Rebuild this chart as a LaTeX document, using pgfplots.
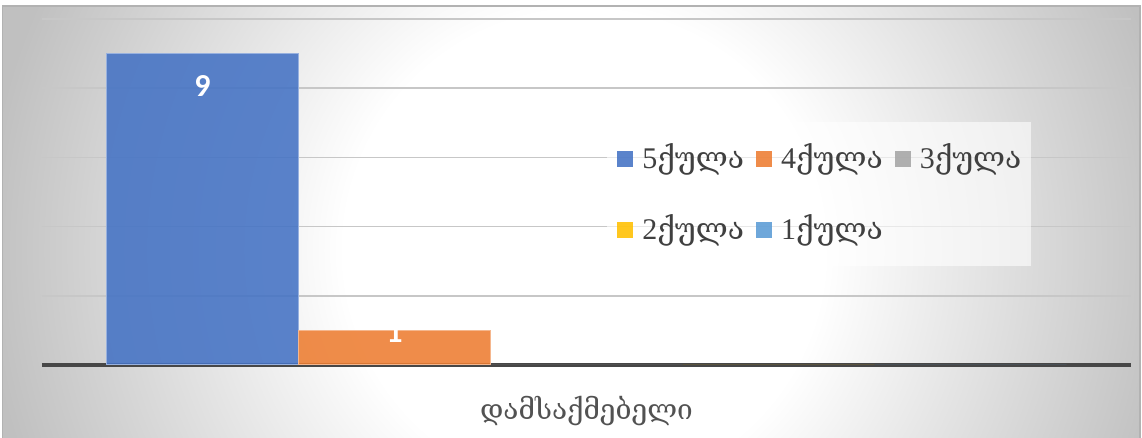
\documentclass[border=0pt]{standalone}
\usepackage{pgfplots}
\pgfplotsset{compat=1.18}
\usepackage{fontspec}
\setmainfont{Liberation Serif}
\newfontfamily\geo{DejaVu Serif}
\newfontfamily\lblfont{Carlito}
\definecolor{c5}{HTML}{4472C4}
\definecolor{c4}{HTML}{ED7D31}
\definecolor{c3}{HTML}{A5A5A5}
\definecolor{c2}{HTML}{FFC000}
\definecolor{c1}{HTML}{5B9BD5}
\definecolor{bggray}{HTML}{C0C0C0}
\pgfdeclareradialshading{bgsh}{\pgfpoint{0bp}{0bp}}{color(0bp)=(white); color(10bp)=(white); color(25bp)=(bggray); color(50bp)=(bggray)}
\begin{document}
\begin{tikzpicture}
\useasboundingbox (0,0) rectangle (571pt,219pt);
\fill[white] (0,0) rectangle (571pt,219pt);
\begin{scope}
\clip (1pt,0) rectangle (570pt,216pt);
\fill[bggray] (0,0) rectangle (571pt,219pt);
\shade[shading=bgsh] (292pt,94pt) circle (300pt);
\end{scope}
\draw[gray!60, line width=0.6pt] (1.25pt,0) -- (1.25pt,216pt) -- (570pt,216pt) -- (570pt,0);
\begin{axis}[
  at={(21pt,36.5pt)}, anchor=south west,
  scale only axis, width=544.5pt, height=173pt,
  xmin=-1, xmax=1, ymin=0, ymax=10,
  ybar=0pt, bar width=96pt,
  /pgf/number format/assume math mode=true,
  xtick={0}, xticklabels={{\geo დამსაქმებელი}},
  xticklabel style={anchor=center, yshift=-23pt, font=\fontsize{14}{14}\selectfont, text=black!68},
  ytick={2,4,6,8,10}, yticklabels={},
  ymajorgrids, grid style={color=black!22, line width=0.75pt},
  major tick length=0pt,
  axis line style={draw=none},
  extra y ticks={0}, extra y tick labels={},
  extra y tick style={grid style={color=black!72, line width=1.6pt}},
  legend columns=3, legend cell align=left,
  legend image code/.code={\fill[#1, draw=none] (0pt,-4pt) rectangle (8pt,4pt);},
  legend style={at={(0.5188,0.7023)}, anchor=north west, fill=white, fill opacity=0.6, text opacity=1, draw=none,
    inner xsep=5pt, inner ysep=13.5pt, row sep=26pt,
    font=\fontsize{15}{15}\selectfont, text=black!75,
    nodes={inner sep=0pt, text height=9.5pt, text depth=0pt},
    /tikz/every odd column/.append style={column sep=4.5pt},
    /tikz/every even column/.append style={column sep=6pt}},
]
\addplot+[fill=c5, fill opacity=0.88, draw=c5!55!white, line width=0.5pt,
  nodes near coords,
  every node near coord/.append style={anchor=center, yshift=-16.25pt, text=white, text opacity=1,
    font=\lblfont\bfseries\fontsize{16}{16}\selectfont}]
  coordinates {(0,9)};
\addlegendentry{5{\geo ქულა}}
\addplot+[fill=c4, fill opacity=0.88, draw=c4!55!white, line width=0.5pt,
  nodes near coords,
  every node near coord/.append style={anchor=center, yshift=-0.8pt, text=white, text opacity=1,
    font=\lblfont\bfseries\fontsize{16}{16}\selectfont}]
  coordinates {(0,1)};
\addlegendentry{4{\geo ქულა}}
\addplot+[fill=c3, fill opacity=0.88, draw=none] coordinates {(0,0)};
\addlegendentry{3{\geo ქულა}}
\addplot+[fill=c2, fill opacity=0.88, draw=none] coordinates {(0,0)};
\addlegendentry{2{\geo ქულა}}
\addplot+[fill=c1, fill opacity=0.88, draw=none] coordinates {(0,0)};
\addlegendentry{1{\geo ქულა}}
\end{axis}
\end{tikzpicture}
\end{document}
